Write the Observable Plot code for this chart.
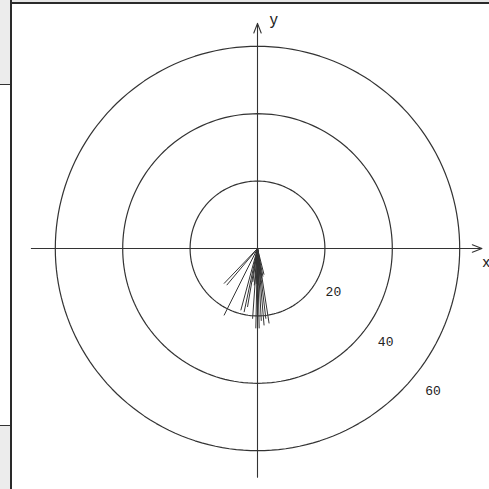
<!DOCTYPE html>
<html>
<head>
<meta charset="utf-8">
<script src="https://cdn.jsdelivr.net/npm/d3@7"></script>
<script src="https://cdn.jsdelivr.net/npm/@observablehq/plot@0.6"></script>
<style>
  html, body { margin: 0; padding: 0; background: #fff; }
  #wrap { position: relative; width: 489px; height: 489px; overflow: hidden; background: #fff; }
  #wrap svg { position: absolute; left: 0; top: 0; }
  .strip { position: absolute; left: 0; width: 11px; background: #ececec; }
  #frameL { position: absolute; left: 10px; top: 0; width: 1.5px; height: 489px; background: #2a2a2a; }
  #frameT { position: absolute; left: 10px; top: 2px; width: 479px; height: 2px; background: #2a2a2a; }
  #topStrip { position: absolute; left: 0; top: 0; width: 489px; height: 2px; background: #e6e6e6; }
  .hline { position: absolute; left: 0; width: 11px; height: 1px; background: #333; }
</style>
</head>
<body>
<div id="wrap">
  <div id="topStrip"></div>
  <div class="strip" style="top:0;height:84px"></div>
  <div class="hline" style="top:84px"></div>
  <div class="strip" style="top:425px;height:64px"></div>
  <div class="hline" style="top:425px"></div>
  <div id="frameL"></div>
  <div id="frameT"></div>
</div>
<script>
// ---- data ----
const ringRadii = [20, 40, 60];
const ringLabels = ["20", "40", "60"];
// radiating vectors: direction (degrees, counter-clockwise from +x) and length (units)
const vectorAngles  = [243.4, 226.3, 230.0, 254.9, 258.1, 260.3, 268.8, 271.2, 274.9, 278.8, 276.8, 273.0, 266.0,
                       262, 265, 268, 270, 272, 275, 278, 281, 284];
const vectorLengths = [22.2, 14.4, 14.2, 19.0, 19.3, 17.6, 23.7, 23.7, 22.9, 22.5, 21.0, 21.5, 20.9,
                       10, 11, 10.5, 9.5, 11, 10, 9, 8.5, 8];
const axisNames = ["x", "y"];

// ---- geometry ----
const W = 489, H = 489;
const k = 3.37;           // px per unit
const cx = 257, cy = 248; // centre in px
const xDomain = [-cx / k, (W - cx) / k];
const yDomain = [-(H - cy) / k, cy / k];

const rad = d => d * Math.PI / 180;
const ringPts = ringRadii.flatMap(r =>
  d3.range(0, 361, 2).map(a => ({r, x: r * Math.cos(rad(a)), y: r * Math.sin(rad(a))}))
);
const vectors = vectorAngles.map((a, i) => ({a, len: vectorLengths[i]}));
const labelAng = [-30, -36, -39];
const labels = ringRadii.map((r, i) => ({t: ringLabels[i], r, ang: labelAng[i], rr: r + (i === 0 ? 6 : 7)}));

const chart = Plot.plot({
  width: W, height: H,
  margin: 0,
  x: {domain: xDomain, axis: null},
  y: {domain: yDomain, axis: null},
  style: {background: "transparent"},
  marks: [
    Plot.line(ringPts, {x: "x", y: "y", z: "r", stroke: "#333", strokeWidth: 1.2}),
    Plot.arrow([{}], {x1: 0, y1: -67.9, x2: 0, y2: 66.8, stroke: "#333", strokeWidth: 1.1, headLength: 14, headAngle: 42}),
    Plot.arrow([{}], {x1: -67.1, y1: 0, x2: 66.6, y2: 0, stroke: "#333", strokeWidth: 1.1, headLength: 14, headAngle: 42}),
    Plot.link(vectors, {
      x1: () => 0, y1: () => 0,
      x2: d => d.len * Math.cos(rad(d.a)),
      y2: d => d.len * Math.sin(rad(d.a)),
      stroke: "#333", strokeWidth: 1
    }),
    Plot.text(labels, {
      x: d => d.rr * Math.cos(rad(d.ang)),
      y: d => d.rr * Math.sin(rad(d.ang)),
      text: "t", fontSize: 13, fontFamily: "Liberation Mono", fill: "#222", letterSpacing: 2
    }),
    Plot.text([axisNames[1]], {x: () => 4.8, y: () => 67.7, text: d => d, fontSize: 16, fontFamily: "Liberation Sans", fill: "#222"}),
    Plot.text([axisNames[0]], {x: () => 67.9, y: () => -4.2, text: d => d, fontSize: 15, fontFamily: "Liberation Sans", fill: "#222"})
  ]
});
document.getElementById("wrap").appendChild(chart);
</script>
</body>
</html>
